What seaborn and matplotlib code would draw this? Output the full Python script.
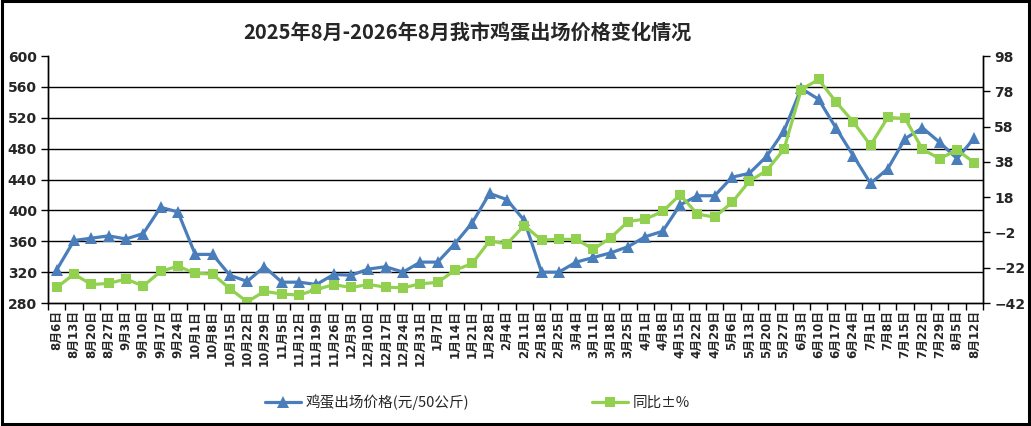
import numpy as np
import pandas as pd
import matplotlib
matplotlib.use('Agg')
import matplotlib.pyplot as plt
import matplotlib.patches as patches
from matplotlib.ticker import FixedLocator
import seaborn as sns

# weekly dates, 2025-08 to 2026-08
dates = ['8月6日', '8月13日', '8月20日', '8月27日', '9月3日', '9月10日', '9月17日', '9月24日',
         '10月1日', '10月8日', '10月15日', '10月22日', '10月29日', '11月5日', '11月12日', '11月19日',
         '11月26日', '12月3日', '12月10日', '12月17日', '12月24日', '12月31日', '1月7日', '1月14日',
         '1月21日', '1月28日', '2月4日', '2月11日', '2月18日', '2月25日', '3月4日', '3月11日',
         '3月18日', '3月25日', '4月1日', '4月8日', '4月15日', '4月22日', '4月29日', '5月6日',
         '5月13日', '5月20日', '5月27日', '6月3日', '6月10日', '6月17日', '6月24日', '7月1日',
         '7月8日', '7月15日', '7月22日', '7月29日', '8月5日', '8月12日']

# price (元/50公斤), left axis
price = [323, 361, 364, 367, 363, 370, 404, 398, 343, 343, 316, 308, 327, 307, 307, 304,
         317, 316, 324, 327, 320, 333, 333, 357, 384, 422, 414, 387, 320, 320, 333, 339,
         345, 353, 366, 373, 407, 419, 419, 443, 448, 470, 503, 558, 544, 507, 471, 435,
         454, 493, 507, 488, 467, 494]

# year-on-year change (%), right axis
yoy = [-33.2, -25.6, -31.5, -30.9, -28.4, -32.4, -24.1, -21.1, -25.2, -25.5, -33.9, -41.3,
       -35.4, -36.9, -37.5, -34.3, -31.6, -33.2, -31.5, -33.0, -33.4, -31.1, -30.3, -23.4,
       -19.6, -6.8, -8.5, 1.9, -6.3, -5.9, -5.9, -11.5, -4.9, 4.2, 5.6, 9.9, 19.4, 8.4,
       6.7, 15.0, 27.0, 33.1, 45.1, 79.0, 84.7, 72.1, 60.7, 47.4, 63.2, 62.6, 45.1, 39.8,
       44.8, 37.5]

left_ticks = [280, 320, 360, 400, 440, 480, 520, 560, 600]
right_ticks = [-42, -22, -2, 18, 38, 58, 78, 98]

blue = '#4A7EBB'
green = '#92D050'

df = pd.DataFrame({'pos': np.arange(len(dates)), 'date': dates, 'price': price, 'yoy': yoy})

sns.set_style('white')
plt.rcParams['font.family'] = ['DejaVu Sans', 'Noto Sans CJK SC']

fig = plt.figure(figsize=(10.31, 4.26), dpi=100)
ax = fig.add_axes([0.0466, 0.2887, 0.9069, 0.5798])
ax2 = ax.twinx()

sns.lineplot(data=df, x='pos', y='price', ax=ax, color=blue, linewidth=2.3, marker='^',
             markersize=8.5, markeredgewidth=0, label='鸡蛋出场价格(元/50公斤)', legend=False)
sns.lineplot(data=df, x='pos', y='yoy', ax=ax2, color=green, linewidth=2.3, marker='s',
             markersize=6.5, markeredgewidth=0, label='同比±%', legend=False)

ax.set_xlim(-0.5, len(dates) - 0.5)
ax.set_ylim(280, 600)
ax2.set_ylim(-42, 98)
ax.set_yticks(left_ticks)
ax2.set_yticks(right_ticks)

# horizontal gridlines on the left scale
for v in left_ticks[1:-1]:
    ax.axhline(v, color='black', linewidth=1, zorder=0)

ax.set_xticks(df['pos'])
ax.set_xticklabels(dates, rotation=90, fontsize=8.5, fontweight='bold',
                   family=['DejaVu Sans', 'Noto Sans CJK SC'])
ax.xaxis.set_minor_locator(FixedLocator(np.arange(len(dates) + 1) - 0.5))
ax.tick_params(axis='x', which='major', length=0, pad=5)
ax.tick_params(axis='x', which='minor', length=5, width=1, color='black', direction='out', bottom=True)
ax.tick_params(axis='y', length=5, width=1, color='black', direction='out', left=True, labelsize=10, pad=3)
ax2.tick_params(axis='y', length=5, width=1, color='black', direction='out', right=True, labelsize=10, pad=3)
for lab in ax.get_yticklabels() + ax2.get_yticklabels():
    lab.set_fontweight('bold')

ax.set_xlabel('')
ax.set_ylabel('')
ax2.set_ylabel('')
for a in (ax, ax2):
    a.spines['top'].set_visible(False)
    for side in ('left', 'right', 'bottom'):
        a.spines[side].set_color('black')
        a.spines[side].set_linewidth(1)

fig.text(0.453, 0.925, '2025年8月-2026年8月我市鸡蛋出场价格变化情况', ha='center', va='center',
         fontsize=14.5, fontweight='bold', family=['Noto Sans CJK SC', 'DejaVu Sans'])

h1, l1 = ax.get_legend_handles_labels()
h2, l2 = ax2.get_legend_handles_labels()
fig.legend(h1 + h2, l1 + l2, loc='center', bbox_to_anchor=(0.463, 0.056), ncol=2,
           frameon=False, columnspacing=8.4, handlelength=2.5, handletextpad=0.3,
           prop={'family': ['Noto Sans CJK SC', 'DejaVu Sans'], 'size': 10.5})

fig.patches.append(patches.Rectangle((0.002, 0.004), 0.996, 0.993, transform=fig.transFigure,
                                     fill=False, edgecolor='black', linewidth=2.2))

fig.savefig('out.png', dpi=100)
